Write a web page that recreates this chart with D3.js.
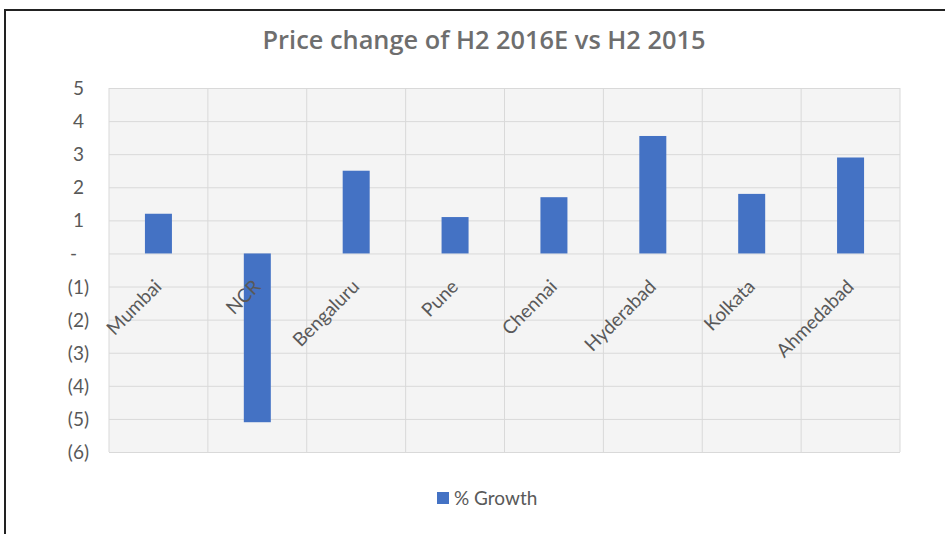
<!DOCTYPE html>
<html>
<head>
<meta charset="utf-8">
<script src="https://cdn.jsdelivr.net/npm/d3@7"></script>
<style>
  body { margin: 0; background: #fff; }
  svg { display: block; font-family: Lato, 'Open Sans', sans-serif; }
</style>
</head>
<body>
<div id="chart"></div>
<script>
// data
const cities = ['Mumbai', 'NCR', 'Bengaluru', 'Pune', 'Chennai', 'Hyderabad', 'Kolkata', 'Ahmedabad']
const growth = [1.2, -5.1, 2.5, 1.1, 1.7, 3.55, 1.8, 2.9]
const yTicks = [5, 4, 3, 2, 1, 0, -1, -2, -3, -4, -5, -6]
const seriesName = '% Growth'
const title = 'Price change of H2 2016E vs H2 2015'

const w = 945, h = 534
const margin = { top: 88, left: 109, right: 45, bottom: 82 }
const mainW = w - margin.left - margin.right,
  mainH = h - margin.top - margin.bottom
const color = '#4472c4'
const textColor = '#595959'

const svg = d3.select('#chart').append('svg').attr('width', w).attr('height', h)

// outer frame
svg.append('path').attr('d', `M5,${h} L5,10 L${w},10`)
  .attr('fill', 'none').attr('stroke', '#222').attr('stroke-width', 2)

const x = d3.scaleBand().domain(cities).range([0, mainW]).paddingInner(0).paddingOuter(0)
const y = d3.scaleLinear().domain([-6, 5]).range([mainH, 0])

const g = svg.append('g').attr('transform', `translate(${margin.left},${margin.top})`)

g.append('rect').attr('width', mainW).attr('height', mainH).attr('fill', '#f4f4f4')

// horizontal grid
g.append('g').classed('grid', true)
  .call(d3.axisLeft(y).tickValues(yTicks).tickSize(-mainW).tickFormat(''))
  .call(s => s.select('.domain').remove())
  .call(s => s.selectAll('line').attr('stroke', '#d9d9d9'))
// vertical grid
g.append('g').classed('vgrid', true)
  .selectAll('line').data(cities.slice(1).concat(['end'])).enter().append('line')
  .attr('x1', d => d === 'end' ? mainW : x(d)).attr('x2', d => d === 'end' ? mainW : x(d))
  .attr('y1', 0).attr('y2', mainH)
  .attr('stroke', '#d9d9d9')
g.append('line').attr('x1', 0).attr('x2', 0).attr('y1', 0).attr('y2', mainH).attr('stroke', '#d9d9d9')

// y labels
const fmt = v => v > 0 ? String(v) : v < 0 ? `(${-v})` : '-'
g.selectAll('.ylab').data(yTicks).enter().append('text').classed('ylab', true)
  .attr('x', d => d > 0 ? -25 : d < 0 ? -20 : -39)
  .attr('y', d => y(d) + 7)
  .attr('text-anchor', d => d === 0 ? 'start' : 'end')
  .attr('fill', textColor).attr('font-size', 19)
  .text(fmt)

// bars
const barW = 27
g.selectAll('.bar').data(cities).enter().append('rect').classed('bar', true)
  .attr('x', d => x(d) + x.bandwidth() / 2 - barW / 2)
  .attr('y', (d, i) => y(Math.max(0, growth[i])))
  .attr('width', barW)
  .attr('height', (d, i) => Math.abs(y(growth[i]) - y(0)))
  .attr('fill', color)

// category labels
g.selectAll('.xlab').data(cities).enter().append('text').classed('xlab', true)
  .attr('transform', d => `translate(${x(d) + x.bandwidth() / 2 - 5},${y(0) + 25}) rotate(-45)`)
  .attr('text-anchor', 'end').attr('dy', '0.7em')
  .attr('fill', textColor).attr('font-size', 19)
  .text(d => d)

// title, sized to the width it has in the picture
const t = svg.append('text').text(title)
  .attr('x', 484).attr('y', 49).attr('text-anchor', 'middle')
  .attr('fill', '#6e6e6e').attr('font-size', 24)
  .style('font-family', "'Open Sans', Lato, sans-serif").attr('font-weight', 600)
const tw = t.node().getComputedTextLength()
t.attr('font-size', 24 * 443 / tw)

// legend
const legend = svg.append('g').attr('transform', 'translate(437,492)')
legend.append('rect').attr('width', 12).attr('height', 12).attr('fill', color)
legend.append('text').text(seriesName).attr('x', 17).attr('y', 13)
  .attr('fill', textColor).attr('font-size', 19)
</script>
</body>
</html>
